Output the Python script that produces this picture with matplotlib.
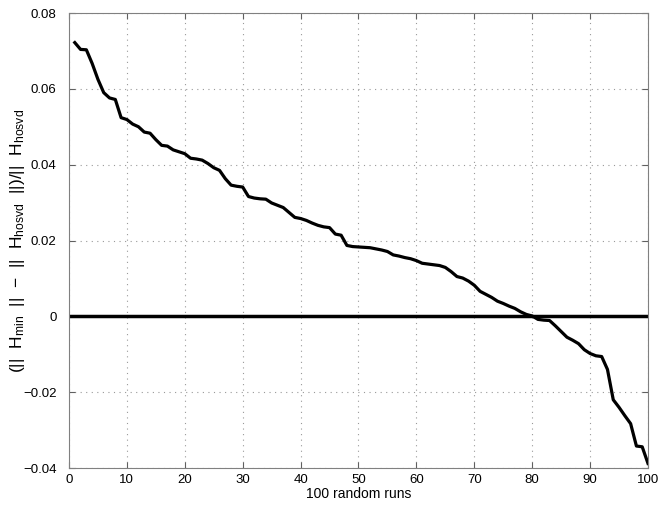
import matplotlib
matplotlib.use('Agg')
import matplotlib.pyplot as plt
import numpy as np

plt.rcParams['font.family'] = ['Liberation Sans', 'DejaVu Sans']
plt.rcParams['mathtext.fontset'] = 'custom'
plt.rcParams['mathtext.rm'] = 'Liberation Sans'
plt.rcParams['mathtext.it'] = 'Liberation Sans'
plt.rcParams.update({'font.size': 10})

# relative difference for each of the 100 random runs (sorted)
rel_diff = np.array([
    0.0722, 0.0704, 0.0703, 0.0667, 0.0625, 0.0590, 0.0576, 0.0572, 0.0524, 0.0519,
    0.0507, 0.0500, 0.0486, 0.0483, 0.0466, 0.0451, 0.0449, 0.0439, 0.0434, 0.0429,
    0.0417, 0.0415, 0.0412, 0.0403, 0.0392, 0.0385, 0.0363, 0.0346, 0.0343, 0.0341,
    0.0316, 0.0312, 0.0310, 0.0309, 0.0299, 0.0293, 0.0287, 0.0274, 0.0261, 0.0258,
    0.0253, 0.0246, 0.0240, 0.0236, 0.0234, 0.0217, 0.0214, 0.0187, 0.0184, 0.0183,
    0.0182, 0.0181, 0.0178, 0.0175, 0.0171, 0.0162, 0.0159, 0.0155, 0.0152, 0.0147,
    0.0140, 0.0138, 0.0136, 0.0134, 0.0129, 0.0118, 0.0105, 0.0101, 0.0093, 0.0082,
    0.0066, 0.0058, 0.0050, 0.0040, 0.0034, 0.0027, 0.0021, 0.0012, 0.0005, 0.0001,
    -0.0008, -0.0010, -0.0011, -0.0025, -0.0040, -0.0055, -0.0063, -0.0072, -0.0088, -0.0098,
    -0.0104, -0.0106, -0.0140, -0.0220, -0.0240, -0.0262, -0.0283, -0.0342, -0.0344, -0.0388,
])
runs = np.arange(1, len(rel_diff) + 1)

fig = plt.figure(figsize=(6.64, 5.08), dpi=100)
ax = fig.add_axes([0.1039, 0.0787, 0.872, 0.8957])

ax.plot(runs, rel_diff, color='black', linewidth=2.3)
ax.axhline(0, color='black', linewidth=2.5)

ax.set_xlim(0, 100)
ax.set_ylim(-0.04, 0.08)
ax.set_xticks(np.arange(0, 101, 10))
ax.set_yticks([-0.04, -0.02, 0, 0.02, 0.04, 0.06, 0.08])
ax.set_yticklabels(['\u22120.04', '\u22120.02', '0', '0.02', '0.04', '0.06', '0.08'])

# matlab look: grey box, inward ticks on all sides, dotted grid
for s in ax.spines.values():
    s.set_color('#808080')
ax.tick_params(direction='in', top=True, right=True, length=4, color='#606060',
               labelsize=9.5)
ax.tick_params(axis='y', pad=9)
ax.tick_params(axis='x', pad=4)
ax.grid(True, linestyle=(0, (1, 4)), color='#999999', linewidth=0.8)

ax.set_xlabel('100 random runs', labelpad=1)
ax.set_ylabel('(||  H$_{\\mathrm{min}}$  ||  \u2212  ||  H$_{\\mathrm{hosvd}}$  ||)/||  H$_{\\mathrm{hosvd}}$',
              fontsize=12.5)
ax.yaxis.set_label_coords(-0.073, 0.5)

plt.savefig('out.png', dpi=100)
